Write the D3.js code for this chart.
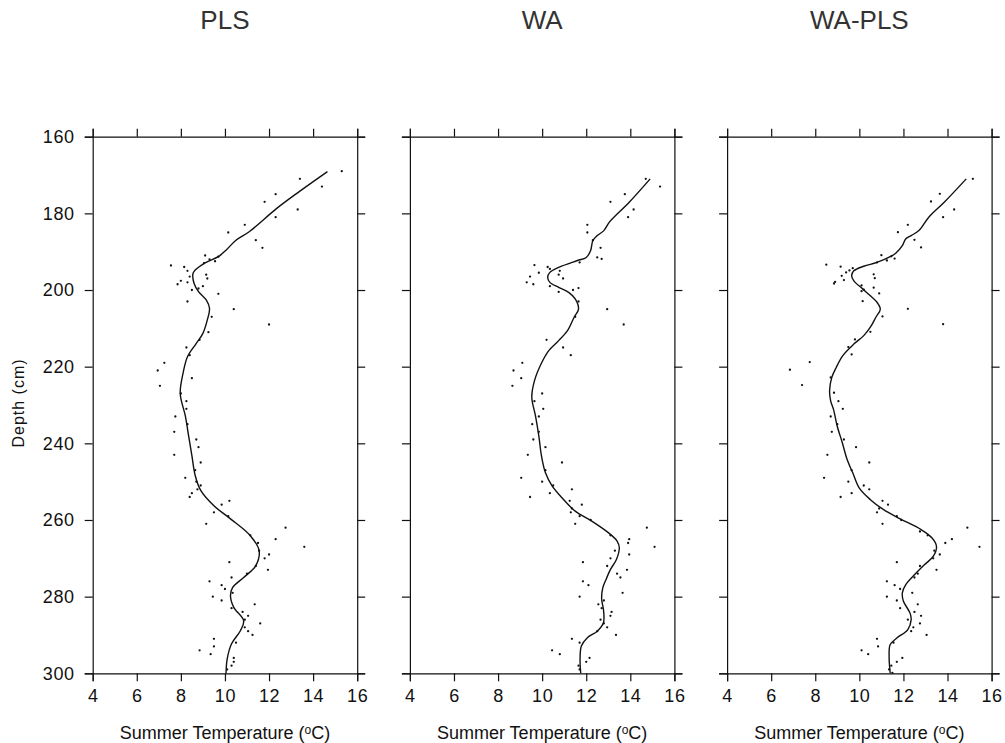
<!DOCTYPE html>
<html>
<head>
<meta charset="utf-8">
<script src="https://cdn.jsdelivr.net/npm/d3@7"></script>
<style>
  body { margin: 0; background: #fff; }
  text { font-family: "Liberation Sans", Arial, sans-serif; fill: #111; }
  .axis path, .axis line { stroke: #111; stroke-width: 1.2; }
  .axis text { font-family: "Liberation Sans", Arial, sans-serif; font-size: 18px; letter-spacing: 0.6px; }
</style>
</head>
<body>
<div class="chartDiv"></div>
<script>
// Reconstructed temperature profiles, three transfer-function models

let titles = ["PLS", "WA", "WA-PLS"];
let depthTicks = [160, 180, 200, 220, 240, 260, 280, 300];
let tempTicks = [4, 6, 8, 10, 12, 14, 16];

// samples: [depth (cm), temperature (C)]
let plsPoints = [
  [169,15.3],[171,13.4],[173,14.4],[175,12.3],[177,11.8],[179,13.3],[181,12.3],[183,10.9],
  [185,10.15],[187,11.4],[189,11.7],[191,9.1],[191.3,9.7],[192,9.3],[192.5,9.55],[193,9.05],
  [193.6,7.55],[194,8.15],[195,8.3],[196,9.15],[196.5,8.4],[197,9.2],[197.6,8.0],[198,8.3],
  [198.5,7.85],[199,9.0],[199.6,8.8],[200,8.5],[201,9.7],[203,8.3],[205,10.4],[207,9.4],
  [209,12.0],[211,9.25],[213,8.85],[215,8.25],[217,8.4],[219,7.25],[221,6.95],[223,8.5],
  [225,7.05],[227,8.0],[229,8.25],[231,8.25],[233,7.75],[235,8.3],[237,7.7],[239,8.7],
  [241,8.8],[243,7.7],[245,8.9],[247,8.65],[249,8.2],[250,8.7],[251,8.9],[252,8.75],
  [253,8.5],[254,8.4],[255,10.2],[256,9.85],[258,9.5],[259,10.15],[261,9.15],[262,12.75],
  [264,11.15],[265,12.3],[266,11.5],[267,13.6],[268,11.55],[269,12.0],[270,11.8],[271,10.2],
  [272,11.4],[273,11.95],[274,11.0],[275,10.3],[276,9.3],[277,9.85],[278,10.0],[279,10.35],
  [280,9.45],[281,9.85],[282,11.35],[283,10.3],[284,10.8],[285,11.05],[286,10.9],[287,11.6],
  [288,10.9],[289,11.05],[290,11.25],[291,9.5],[292,10.5],[293,9.5],[294,8.85],[295,9.35],
  [296,10.4],[297,10.4],[298,10.3],[299,10.1]
];

let waPoints = [
  [171,14.7],[173,15.35],[175,13.75],[177,13.1],[179,14.15],[181,13.9],[183,12.05],[185,12.05],
  [187,12.3],[189,12.65],[191.5,12.5],[191.9,12.7],[192.8,11.7],[193.5,9.65],[194,10.25],
  [194.5,10.35],[195,10.8],[195.5,9.85],[196,10.75],[196.5,9.45],[197,10.95],[198,9.3],
  [198.5,9.6],[199,10.35],[199.5,11.65],[200,11.4],[200.5,10.75],[203,11.65],[205,12.95],
  [207,11.5],[209,13.7],[213,10.2],[215,10.95],[217,11.3],[219,9.1],[221,8.7],[223,9.05],
  [225,8.65],[227,10.0],[229,9.65],[231,10.05],[233,9.85],[235,9.55],[237,9.85],[239,9.6],
  [241,10.15],[243,9.35],[245,10.9],[247,10.15],[249,9.05],[250,10.0],[251,10.5],[252,11.35],
  [253,10.35],[254,9.45],[255,11.25],[256,11.8],[257,11.35],[258,11.3],[259,11.7],[260,12.2],
  [261,11.5],[262,14.75],[264,13.1],[265,13.95],[266,13.9],[267,15.1],[268,13.3],[269,13.95],
  [270,13.1],[271,11.85],[272,12.95],[273,13.85],[274,13.4],[275,13.55],[276,11.85],[277,12.1],
  [279,13.65],[280,11.7],[281,12.8],[282,12.55],[283,12.7],[284,13.15],[285,13.1],[286,12.65],
  [287,12.8],[288,12.95],[289,12.5],[290,13.35],[291,11.35],[292,11.7],[294,10.45],[295,10.8],
  [296,12.15],[297,12.0],[298,11.65],[299,11.7]
];

let waplsPoints = [
  [171,15.15],[174.9,13.65],[176.9,13.25],[179,14.3],[181,13.8],[183,12.2],[184.9,11.75],
  [186.9,12.5],[188.9,12.8],[190.9,11.0],[191.2,11.45],[191.8,11.6],[192.3,11.25],[192.8,10.8],
  [193.4,8.5],[193.9,9.15],[194.3,9.7],[194.9,9.55],[195.4,9.4],[195.9,10.65],[196.3,9.2],
  [196.9,10.7],[197.4,9.3],[197.9,8.9],[198.3,8.85],[198.8,10.1],[199.4,10.65],[199.9,10.2],
  [200.3,10.1],[200.9,10.9],[202.9,10.15],[204.9,12.2],[206.9,11.05],[208.9,13.8],[210.9,10.5],
  [212.9,9.8],[214.9,9.5],[216.8,9.65],[218.8,7.75],[220.8,6.85],[222.8,8.7],[224.8,7.4],
  [226.8,8.85],[229,9.05],[231,9.25],[233,8.7],[235,9.0],[237,8.75],[239,9.3],[241,9.85],
  [243,8.55],[245,10.45],[247,9.65],[249,8.4],[250,9.5],[251,10.2],[252,10.45],[253,9.65],
  [254,9.15],[255,11.05],[256,11.3],[257,10.9],[258,10.8],[259,11.7],[260,11.9],[261,11.05],
  [262,14.9],[263,12.75],[264,13.1],[265,14.2],[266,13.9],[267,15.45],[268,13.4],[269,13.65],
  [270,13.35],[271,11.7],[272,12.75],[273,13.5],[274,12.65],[275,12.5],[276,11.25],[277,11.6],
  [278,11.85],[279,12.4],[280,11.25],[281,11.7],[282,12.65],[283,11.85],[284,12.5],[285,12.8],
  [286,12.2],[287,12.75],[288,12.45],[289,12.35],[290,13.05],[291,10.8],[292,11.55],[293,10.85],
  [294,10.1],[295,10.4],[296,11.95],[297,11.7],[298,11.45],[299,11.35],[299.9,11.5]
];

// smoothed curves: [depth, temperature]
let plsCurve = [
  [169.1,14.65],[174.2,13.4],[178.7,12.35],[184.8,11.1],[187,10.5],[189.6,10.05],[191.3,9.7],
  [192.9,9.1],[194.8,8.65],[195.7,8.55],[198.3,8.6],[200.4,8.8],[202.6,9.15],[204.8,9.3],
  [207.8,9.2],[211.3,9.0],[213.9,8.7],[217.4,8.3],[221.7,8.1],[227,7.97],[232.8,8.2],
  [238,8.35],[243.2,8.5],[248.4,8.65],[252.3,8.9],[256.3,9.5],[259.7,10.25],[264.1,11.15],
  [268,11.55],[271.9,11.4],[275,10.85],[277.6,10.35],[279.7,10.25],[282.8,10.4],[286.3,10.85],
  [288.9,10.7],[292.3,10.3],[296.3,10.1],[300,10.05]
];

let waCurve = [
  [171,14.9],[177.1,13.95],[182.3,13.05],[184.5,12.8],[185.8,12.5],[187.1,12.3],[189.7,12.2],
  [191.5,12.0],[192.3,11.6],[194.1,10.75],[195.4,10.35],[196.7,10.25],[198,10.35],[199.3,10.75],
  [200.6,11.2],[202.3,11.5],[205,11.65],[207.1,11.45],[210.6,11.15],[213.2,10.75],[215.8,10.3],
  [219.3,9.95],[223.7,9.65],[228,9.53],[232.9,9.7],[238.1,9.85],[243.3,9.97],[247.7,10.15],
  [251.1,10.45],[254.2,10.9],[257.7,11.5],[260.3,12.25],[263.3,13.0],[265.5,13.4],[267.2,13.5],
  [270.3,13.37],[272.9,13.1],[275.5,12.9],[277.7,12.75],[280.7,12.7],[283.3,12.78],[286.8,12.78],
  [289,12.5],[290.7,12.05],[292.9,11.78],[296.3,11.72],[300,11.75]
];

let waplsCurve = [
  [171,14.85],[177.1,13.85],[181,13.15],[184.5,12.7],[185.8,12.35],[186.7,12.1],[188.4,11.95],
  [190.4,11.65],[191.3,11.4],[192.8,10.8],[193.8,10.2],[195,9.75],[196.3,9.65],[197.6,9.75],
  [199.7,10.15],[201.5,10.5],[203.2,10.8],[205,10.95],[207.1,10.75],[209.7,10.5],[211.9,10.2],
  [214.1,9.75],[217.1,9.25],[220.2,8.95],[222.8,8.75],[226.3,8.65],[229,8.7],[231.2,8.83],
  [235.6,9.0],[239.9,9.23],[244.3,9.45],[247.7,9.7],[251.7,10.0],[254.7,10.5],[257.3,11.1],
  [259.7,11.85],[262.5,12.8],[264.7,13.3],[266.9,13.5],[269.5,13.35],[271.7,12.95],[274.3,12.5],
  [276.9,12.1],[279,11.95],[281.2,12.0],[284.3,12.3],[286,12.35],[288.6,12.2],[290.8,11.7],
  [292.5,11.4],[295.6,11.35],[300,11.4]
];

let panels = [
  { title: titles[0], points: plsPoints, curve: plsCurve },
  { title: titles[1], points: waPoints, curve: waCurve },
  { title: titles[2], points: waplsPoints, curve: waplsCurve }
];

let svgWidth = 1005;
let svgHeight = 743;

let margin = { top: 136.7, left: 92.7 };
let graphWidth = 264.5;
let graphHeight = 536.6;
let panelStep = 317.2;

let svg = d3.select('.chartDiv')
            .append('svg')
            .attr('width', svgWidth)
            .attr('height', svgHeight);

let xScale = d3.scaleLinear().domain([4, 16]).range([0, graphWidth]);
let yScale = d3.scaleLinear().domain([160, 300]).range([0, graphHeight]);

let line = d3.line()
             .x(d => xScale(d[1]))
             .y(d => yScale(d[0]))
             .curve(d3.curveCatmullRom);

panels.forEach((p, i) => {
  let g = svg.append('g')
             .attr('transform', `translate(${margin.left + i * panelStep}, ${margin.top})`);

  // four-sided frame with outward ticks
  g.append('g').classed('axis', true)
   .attr('transform', `translate(0, ${graphHeight})`)
   .call(d3.axisBottom(xScale).tickValues(tempTicks).tickSize(8).tickPadding(8));

  g.append('g').classed('axis', true)
   .call(d3.axisTop(xScale).tickValues(tempTicks).tickSize(8).tickFormat(''));

  g.append('g').classed('axis', true)
   .call(d3.axisLeft(yScale).tickValues(depthTicks).tickSize(8).tickPadding(10)
           .tickFormat(i === 0 ? d3.format('d') : ''));

  g.append('g').classed('axis', true)
   .attr('transform', `translate(${graphWidth}, 0)`)
   .call(d3.axisRight(yScale).tickValues(depthTicks).tickSize(8).tickFormat(''));

  g.selectAll('.axis text').attr('fill', '#111');

  // sample dots
  g.selectAll('circle')
   .data(p.points)
   .enter()
   .append('circle')
   .attr('cx', d => xScale(d[1]))
   .attr('cy', d => yScale(d[0]))
   .attr('r', 1.15)
   .attr('fill', '#111');

  // smoothed curve
  g.append('path')
   .datum(p.curve)
   .attr('d', line)
   .attr('fill', 'none')
   .attr('stroke', '#111')
   .attr('stroke-width', 1.4);

  // title
  svg.append('text')
     .attr('x', margin.left + i * panelStep + graphWidth / 2)
     .attr('y', 29)
     .attr('text-anchor', 'middle')
     .style('font-size', '26px')
     .style('fill', '#333')
     .text(p.title);

  // x label
  let xl = svg.append('text')
              .attr('x', margin.left + i * panelStep + graphWidth / 2)
              .attr('y', 739)
              .attr('text-anchor', 'middle')
              .style('font-size', '18px');
  xl.append('tspan').text('Summer Temperature (');
  xl.append('tspan').attr('dy', -5).style('font-size', '12px').text('o');
  xl.append('tspan').attr('dy', 5).text('C)');
});

// y label
svg.append('text')
   .attr('transform', `translate(24, ${margin.top + graphHeight / 2 - 2}) rotate(-90)`)
   .attr('text-anchor', 'middle')
   .style('font-size', '16px')
   .style('letter-spacing', '1px')
   .text('Depth (cm)');

</script>
</body>
</html>
